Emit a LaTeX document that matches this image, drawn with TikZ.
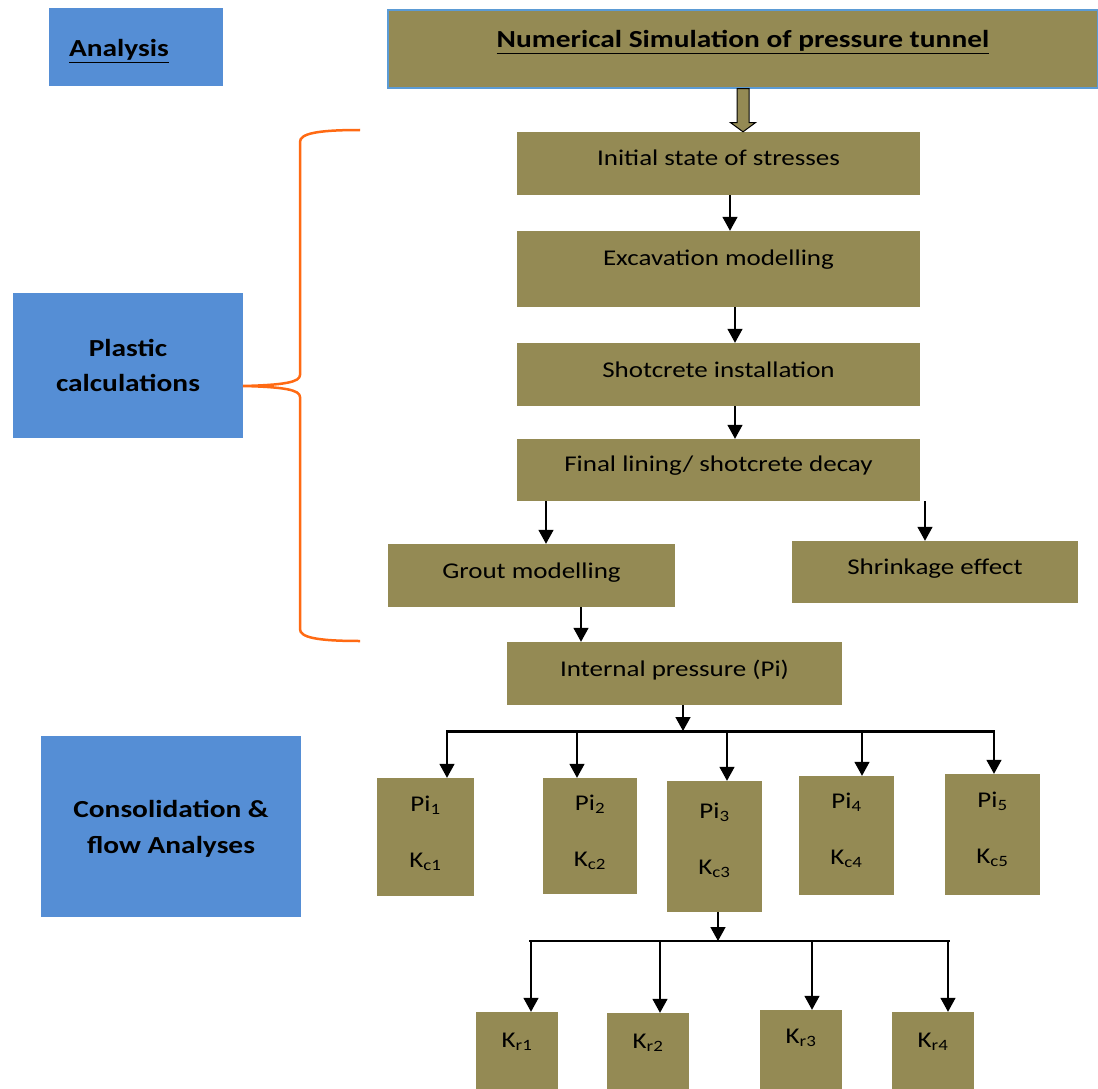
\documentclass[tikz,border=0pt]{standalone}
\usepackage{fontspec}
\setmainfont[FakeStretch=1.2]{Carlito}
\usepackage{xcolor}
\usetikzlibrary{arrows.meta}
\definecolor{olivefill}{HTML}{948A54}
\definecolor{bluefill}{HTML}{558ED5}
\definecolor{titleedge}{HTML}{5B9BD5}
\definecolor{braceorange}{HTML}{FF6A13}
\tikzset{
  stage/.style={fill=olivefill, inner sep=0pt, text height=15pt, text depth=#1,
    font=\fontsize{22.5}{27}\selectfont, align=center},
  stage/.default=12pt,
  sidebox/.style={fill=bluefill, inner sep=0pt, text height=#1, text depth=5pt,
    font=\bfseries\fontsize{24.5}{35}\selectfont, align=center},
  flow/.style={-{Triangle[length=14pt,width=15pt]}, line width=1.5pt},
}

\begin{document}
\begin{tikzpicture}[x=1pt,y=-1pt]
  \useasboundingbox (0,0) rectangle (1098,1089);
  % left column
  \node[sidebox=25pt, text width=134pt, inner xsep=20pt, align=left,
    minimum height=78pt] (analysis) at (136,47) {\underline{Analysis}};
  \node[sidebox=56pt, minimum width=230pt, minimum height=145pt] (plastic) at (128,365.5)
    {Plastic\\calculations};
  \node[sidebox=58pt, minimum width=260pt, minimum height=181pt, font=\bfseries\fontsize{24.5}{36}\selectfont]
    (consol) at (171,826.5) {Consolidation \&\\flow Analyses};
  % main column
  \node[stage=17pt, draw=titleedge, line width=1.2pt, minimum width=710pt, minimum height=78pt,
    font=\bfseries\fontsize{24.5}{30}\selectfont] (title) at (743,49)
    {\underline{Numerical Simulation of pressure tunnel}};
  \node[stage=12pt, minimum width=403pt, minimum height=63pt] (initial) at (718.5,163.5)
    {Initial state of stresses};
  \node[stage=23pt, minimum width=403pt, minimum height=76pt] (excavation) at (718.5,269)
    {Excavation modelling};
  \node[stage=10pt, minimum width=403pt, minimum height=63pt] (shotcrete) at (718.5,374.5)
    {Shotcrete installation};
  \node[stage=12pt, minimum width=403pt, minimum height=62pt] (lining) at (718.5,470)
    {Final lining/ shotcrete decay};
  \node[stage=10pt, minimum width=287pt, minimum height=63pt] (grout) at (531.5,575.5)
    {Grout modelling};
  \node[stage=11pt, minimum width=286pt, minimum height=62pt] (shrinkage) at (935,572)
    {Shrinkage effect};
  \node[stage=10pt, minimum width=335pt, minimum height=63pt] (pressure) at (674.5,673.5)
    {Internal pressure (Pi)};
  % block arrow under the title
  \draw[fill=olivefill, line width=1pt] ([xshift=-6pt]title.south) -- ([xshift=6pt]title.south)
    -- ([xshift=6pt,yshift=-34pt]title.south) -- ([xshift=12.5pt,yshift=-34pt]title.south)
    -- (title.south |- initial.north) -- ([xshift=-12.5pt,yshift=-34pt]title.south)
    -- ([xshift=-6pt,yshift=-34pt]title.south) -- cycle;
  \draw[flow] ([xshift=11.5pt]initial.south) -- ([xshift=11.5pt]initial.south |- excavation.north);
  \draw[flow] ([xshift=16.5pt]excavation.south) -- ([xshift=16.5pt]excavation.south |- shotcrete.north);
  \draw[flow] ([xshift=16.5pt]shotcrete.south) -- ([xshift=16.5pt]shotcrete.south |- lining.north);
  \draw[flow] ([xshift=14.5pt]grout.north |- lining.south) -- ([xshift=14.5pt]grout.north);
  \draw[flow] ([xshift=-10pt]shrinkage.north |- lining.south) -- ([xshift=-10pt]shrinkage.north);
  \draw[flow] ([xshift=49.5pt]grout.south) -- ([xshift=49.5pt]grout.south |- pressure.north);
  % brace
  \coordinate (bracetip) at (243,386);
  \draw[braceorange, line width=2.5pt] (360,130) .. controls (315,130) and (300,134) .. (300,142)
    -- (300,375) .. controls (300,382) and (285,385) .. (bracetip)
    .. controls (285,387) and (300,390) .. (300,397) -- (300,629)
    .. controls (300,637) and (315,641) .. (360,641);
  % pressure cases
  \coordinate (busa) at (446,731);
  \coordinate (busb) at (995,731);
  \draw[line width=3pt] (busa) -- (busb);
  \draw[flow] ([xshift=8.5pt]pressure.south) -- ([xshift=8.5pt]pressure.south |- busa);
  \foreach \n/\x/\yt/\yb/\w/\h/\a in {1/425.5/778/896/97/65/21.5, 2/590/778/894/94/65/-13,
      3/714.5/781/912/95/60/12.5, 4/846.5/776/895/95/62/15.5, 5/992.5/774/895/95/62/1.5} {
    \node[stage=5pt, text height=\h pt, minimum width=\w pt, minimum height={\yb-\yt}]
      (pi\n) at (\x,{(\yt+\yb)/2}) {Pi\textsubscript{\n}\\[29pt]K\textsubscript{c\n}};
    \draw[flow] ([xshift=\a pt]pi\n.north |- busa) -- ([xshift=\a pt]pi\n.north);
  }
  % rock cases
  \coordinate (busc) at (529,941);
  \coordinate (busd) at (950,941);
  \draw[line width=2pt] (busc) -- (busd);
  \draw[flow] ([xshift=3.5pt]pi3.south) -- ([xshift=3.5pt]pi3.south |- busc);
  \foreach \n/\x/\yt/\d/\a in {1/517/1012/22/14, 2/648/1013/21/12, 3/801/1010/28/11, 4/933/1012/22/15} {
    \node[stage=\d pt, minimum width=82pt, minimum height={1089-\yt}] (kr\n) at (\x,{(\yt+1089)/2})
      {K\textsubscript{r\n}};
    \draw[flow] ([xshift=\a pt]kr\n.north |- busc) -- ([xshift=\a pt]kr\n.north);
  }
\end{tikzpicture}
\end{document}
